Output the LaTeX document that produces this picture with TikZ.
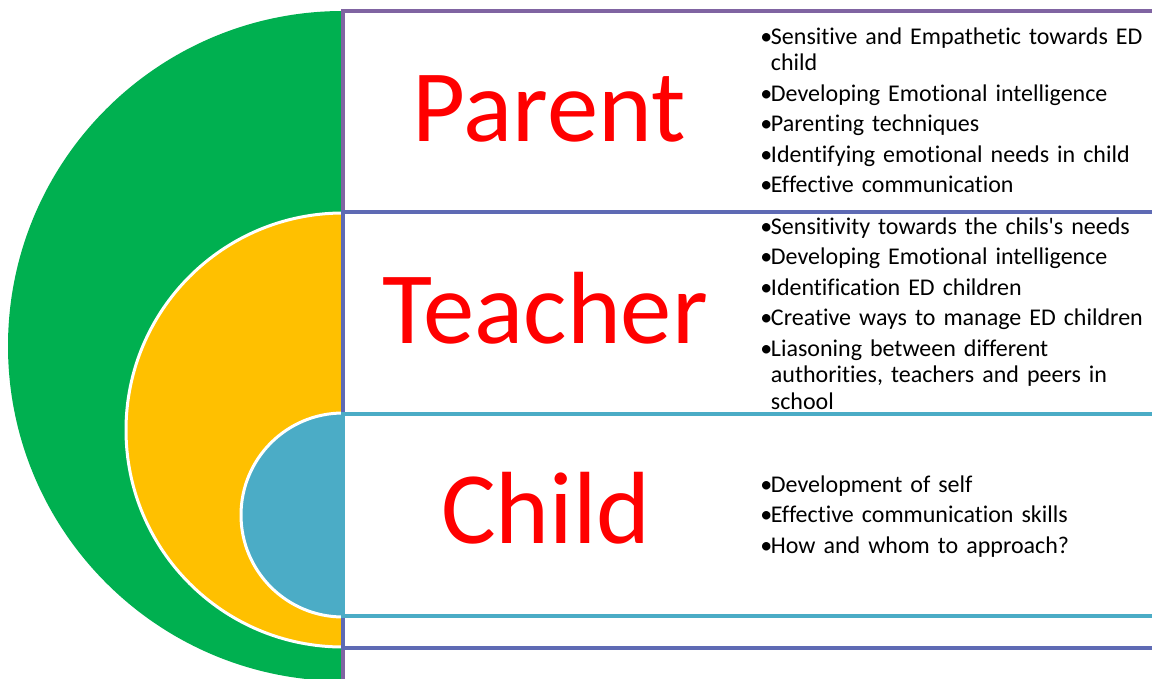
\documentclass[tikz,border=0pt]{standalone}
\usepackage{fontspec}
\setmainfont{Carlito}[Ligatures={NoCommon}]
\usepackage{xcolor}
\usepackage{tikz}
\definecolor{ringgreen}{HTML}{00B050}
\definecolor{ringyellow}{HTML}{FFC000}
\definecolor{ringblue}{HTML}{4BACC6}
\definecolor{boxpurple}{HTML}{8064A2}
\definecolor{boxblue}{HTML}{5E6AB4}
\definecolor{boxteal}{HTML}{4BACC6}
\tikzstyle{ring} = [draw=white, line width=2.25pt]
\tikzstyle{band} = [fill=white, line width=3pt]
\tikzstyle{bigword} = [anchor=base, inner sep=0pt, text=red, font=\fontsize{77}{80}\selectfont]
\tikzstyle{bullets} = [anchor=base west, inner sep=0pt, text width=320pt, align=left, font=\fontsize{18}{20}\selectfont]
\newcommand{\bul}[1]{\setlength{\parskip}{2.9pt}\hangindent=8pt\hangafter=1\noindent\makebox[8pt][l]{•}#1\par}

\begin{document}
\begin{tikzpicture}[x=0.75pt, y=-0.75pt]
\useasboundingbox (0,0) rectangle (1152,678);
\clip (0,0) rectangle (1152,678);

% half rings
\fill[ringgreen] (343,11) arc[start angle=90, end angle=270, radius=251.25pt] -- cycle;
\path[ring, fill=ringyellow] (343,213) arc[start angle=90, end angle=270, radius=162.75pt] -- cycle;
\path[ring, fill=ringblue] (343,413) arc[start angle=90, end angle=270, radius=76.5pt] -- cycle;

% bands
\draw[band, draw=boxpurple] (343,11) rectangle (1170,690);
\draw[band, draw=boxblue] (343,212) rectangle (1170,648);
\draw[band, draw=boxteal] (343,414) rectangle (1170,616);

\node (parent) [bigword] at (549,141) {Parent};
\node (teacher) [bigword] at (545,343) {Teacher};
\node (child) [bigword] at (546,543) {Child};

\node (parent_list) [bullets] at (760,44) {%
\bul{Sensitive and Empathetic towards ED\newline child}%
\bul{Developing Emotional intelligence}%
\bul{Parenting techniques}%
\bul{Identifying emotional needs in child}%
\bul{Effective communication}};

\node (teacher_list) [bullets] at (760,234) {%
\bul{Sensitivity towards the chils\textquotesingle s needs}%
\bul{Developing Emotional intelligence}%
\bul{Identification ED children}%
\bul{Creative ways to manage ED children}%
\bul{Liasoning between different\newline authorities, teachers and peers in\newline school}};

\node (child_list) [bullets] at (760,492) {%
\bul{Development of self}%
\bul{Effective communication skills}%
\bul{How and whom to approach?}};
\end{tikzpicture}
\end{document}
